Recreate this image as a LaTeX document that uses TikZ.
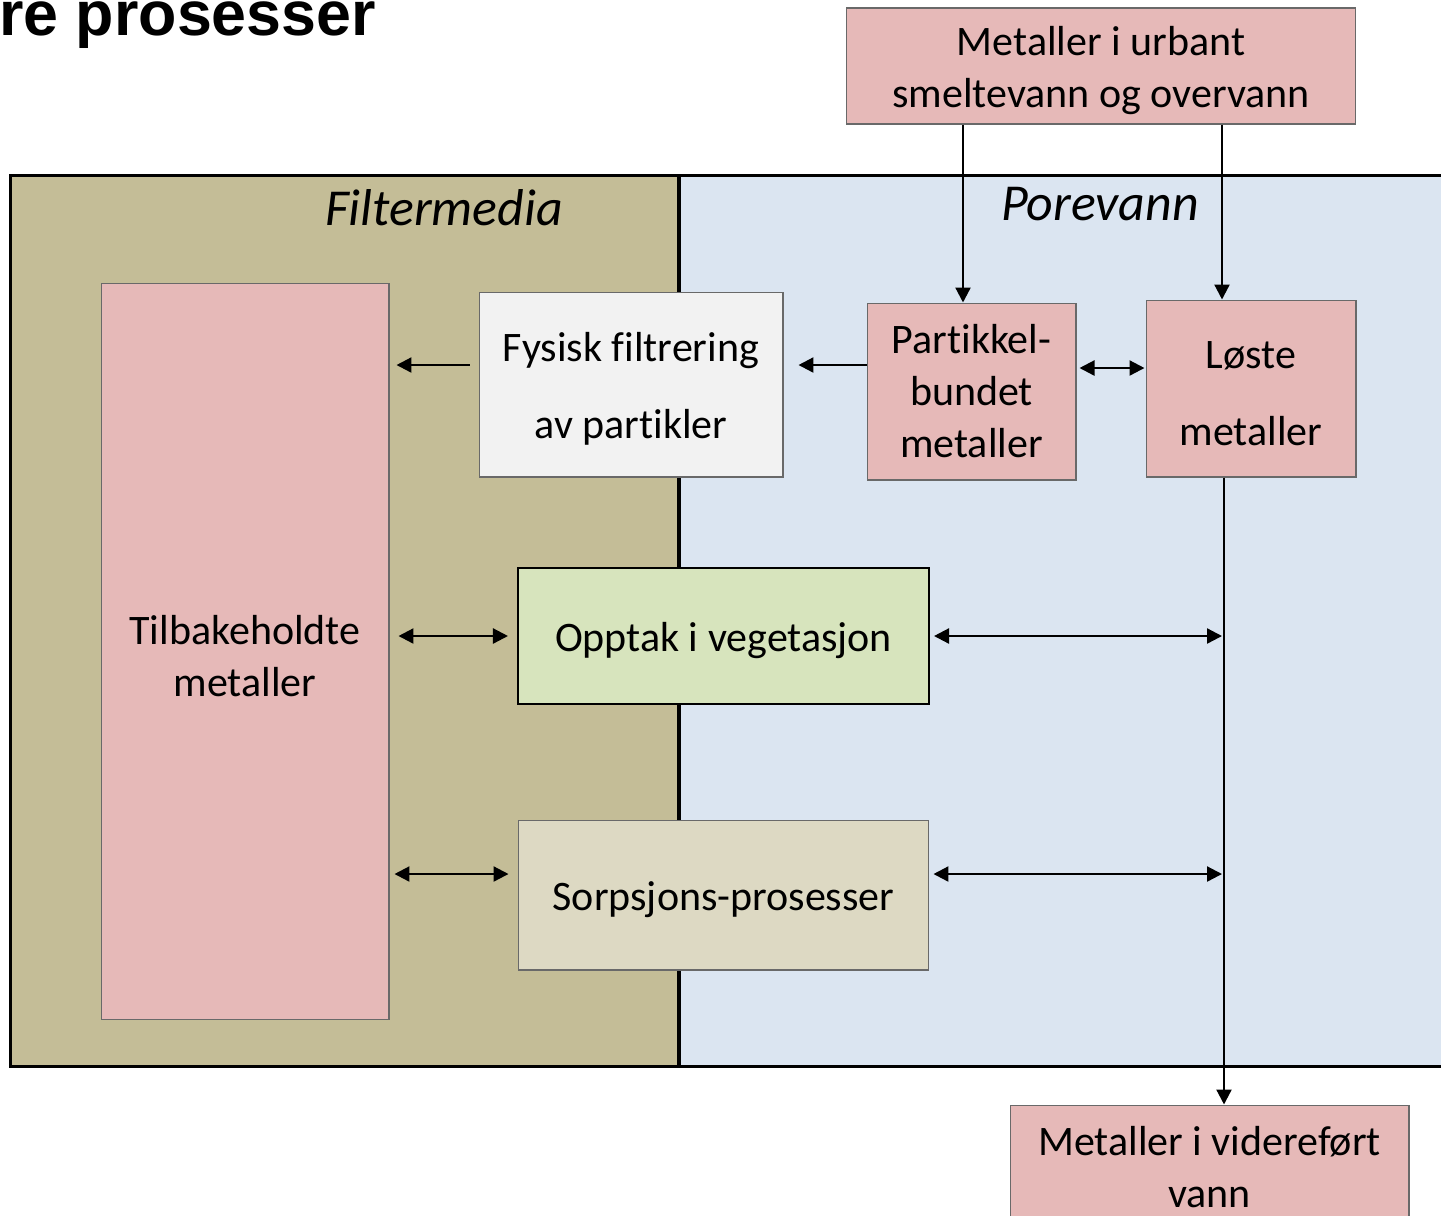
\documentclass[tikz,border=0pt]{standalone}
\usepackage{fontspec}
\setmainfont{Carlito}[RawFeature={-liga;-clig;-calt}]
\newfontfamily\headfont{Liberation Sans}
\usetikzlibrary{arrows.meta, positioning, calc}
\definecolor{metal}{RGB}{230, 185, 184}
\definecolor{filter}{RGB}{196, 189, 151}
\definecolor{pore}{RGB}{219, 229, 241}
\definecolor{plant}{RGB}{215, 228, 189}
\definecolor{sorp}{RGB}{221, 217, 195}
\definecolor{physic}{RGB}{242, 242, 242}
\definecolor{border}{RGB}{105, 105, 105}
\newcommand{\lift}{\rule{0pt}{0.9em}}
\tikzstyle{arrow} = [line width=1.3pt, -{Triangle[length=0.3cm, width=0.3cm]}]
\tikzstyle{twoway} = [line width=1.3pt, {Triangle[length=0.3cm, width=0.3cm]}-{Triangle[length=0.3cm, width=0.3cm]}]
\tikzstyle{zone} = [rectangle, draw=black, line width=1.7pt, inner sep=0pt]
\tikzstyle{zonelabel} = [font=\itshape\fontsize{29.5}{35}\selectfont, anchor=base, inner sep=0pt]
\tikzstyle{box} = [rectangle, draw=border, line width=0.6pt, align=center, inner sep=0pt, font=\fontsize{23.9}{29.6}\selectfont, execute at begin node={\lift}]
\tikzstyle{metalbox} = [box, fill=metal]

\begin{document}
\begin{tikzpicture}[x=0.02cm, y=-0.02cm]
    \useasboundingbox (0,0) rectangle (1441,1215);

    % zones
    \node (filtermedia) [zone, fill=filter, minimum width=13.38cm, minimum height=17.84cm] at (344.5,621) {};
    \node (porevann) [zone, fill=pore, minimum width=15.62cm, minimum height=17.84cm] at (1069.5,621) {};
    \node (filterlabel) [zonelabel] at (444,225) {Filtermedia};
    \node (porelabel) [zonelabel] at (1100,220) {Porevann};

    \node (title) [anchor=base west, inner sep=0pt, font=\headfont\bfseries\fontsize{35.7}{40}\selectfont] at (-1,35) {re prosesser};

    % boxes
    \node (inflow) [metalbox, minimum width=10.2cm, minimum height=2.32cm] at (1101,66) {\lift Metaller i urbant\\smeltevann og overvann};
    \node (retained) [metalbox, minimum width=5.76cm, minimum height=14.74cm] at (245,651.5) {\lift Tilbakeholdte\\metaller};
    \node (physical) [box, fill=physic, minimum width=6.08cm, minimum height=3.7cm, font=\fontsize{23.9}{44}\selectfont] at (631,384.5) {\lift Fysisk filtrering\\av partikler};
    \node (particle) [metalbox, minimum width=4.18cm, minimum height=3.54cm] at (971.5,391.5) {Partikkel-\\bundet\\metaller};
    \node (dissolved) [metalbox, minimum width=4.2cm, minimum height=3.54cm, font=\fontsize{23.9}{44}\selectfont] at (1251,388.5) {\lift Løste\\metaller};
    \node (uptake) [box, fill=plant, draw=black, line width=1.2pt, minimum width=8.22cm, minimum height=2.72cm] at (723.5,636) {Opptak i vegetasjon};
    \node (sorption) [box, fill=sorp, minimum width=8.22cm, minimum height=3cm] at (723.5,895) {Sorpsjons-prosesser};
    \node (outflow) [metalbox, minimum width=7.98cm, minimum height=2.5cm] at (1209.5,1167.5) {Metaller i videreført\\vann};

    % connectors
    \coordinate (drain) at ([xshift=-0.54cm]dissolved.south);
    \draw [arrow] ([xshift=-0.17cm]particle.north |- inflow.south) -- ([xshift=-0.17cm]particle.north);
    \draw [arrow] ([xshift=-0.58cm]dissolved.north |- inflow.south) -- ([xshift=-0.58cm]dissolved.north);
    \draw [arrow] (drain) -- (drain |- outflow.north);
    \draw [arrow, shorten >=0.3cm] ([yshift=0.53cm]particle.west) -- ([yshift=0.53cm]particle.west -| physical.east);
    \draw [arrow, shorten <=0.18cm, shorten >=0.14cm] ([yshift=0.39cm]physical.west) -- ([yshift=0.39cm]physical.west -| retained.east);
    \draw [twoway, shorten <=0.06cm, shorten >=0.02cm] ([yshift=0.47cm]particle.east) -- ([yshift=0.47cm]particle.east -| dissolved.west);
    \draw [twoway, shorten <=0.18cm, shorten >=0.18cm] (retained.east |- uptake.west) -- (uptake.west);
    \draw [twoway, shorten <=0.08cm, shorten >=0.04cm] (uptake.east) -- (drain |- uptake.east);
    \draw [twoway, shorten <=0.1cm, shorten >=0.18cm] ([yshift=0.42cm]retained.east |- sorption.west) -- ([yshift=0.42cm]sorption.west);
    \draw [twoway, shorten <=0.08cm, shorten >=0.04cm] ([yshift=0.42cm]sorption.east) -- ([yshift=0.42cm]drain |- sorption.east);
\end{tikzpicture}
\end{document}
